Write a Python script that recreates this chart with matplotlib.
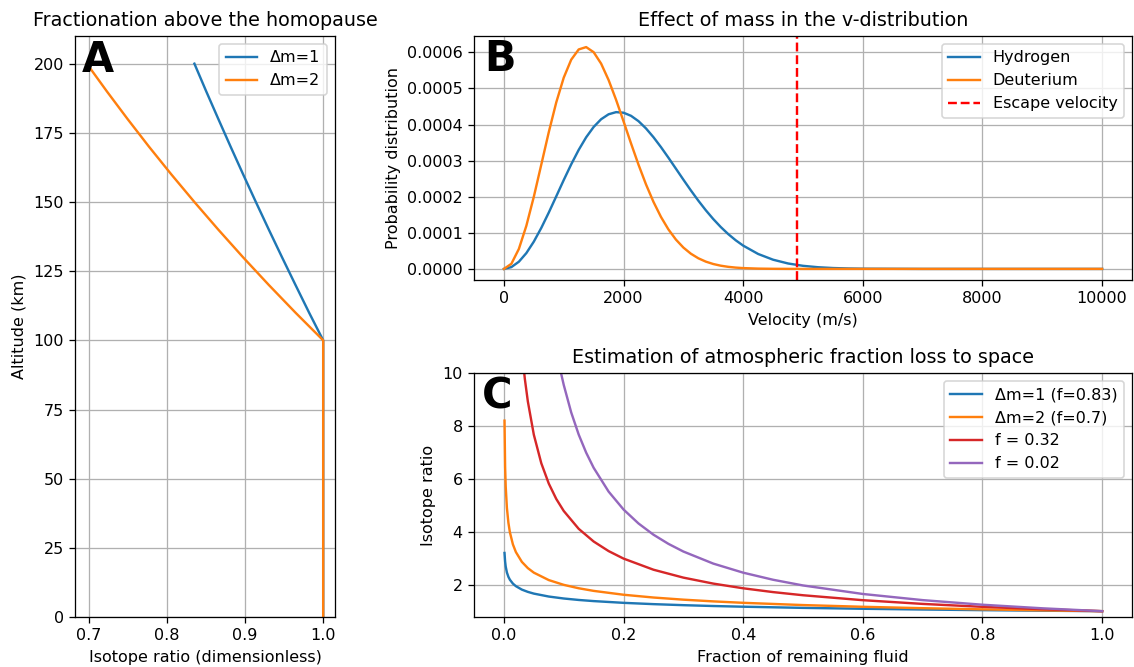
import numpy as np
import matplotlib
matplotlib.use("Agg")
import matplotlib.pyplot as plt

# --- Panel A: isotope ratio vs altitude ---
altitude = [0, 100, 110, 120, 130, 140, 150, 160, 170, 180, 190, 200]
ratio_dm1 = [1.0, 1.0, 0.982, 0.9646, 0.9474, 0.9305, 0.9139, 0.8976, 0.8816, 0.8659, 0.8504, 0.8353]
ratio_dm2 = [1.0, 1.0, 0.9646, 0.9305, 0.8976, 0.8659, 0.8353, 0.8057, 0.7772, 0.7498, 0.7233, 0.6977]

# --- Panel B: velocity distributions ---
velocity = [0, 125, 250, 375, 500, 625, 750, 875, 1000, 1125, 1250, 1375, 1500,
            1625, 1750, 1875, 2000, 2125, 2250, 2375, 2500, 2625, 2750, 2875,
            3000, 3125, 3250, 3375, 3500, 3625, 3750, 3875, 4000, 4250, 4500,
            4750, 5000, 5250, 5500, 5750, 6000, 7000, 8000, 9000, 10000]
p_hydrogen = [0, 5.039e-6, 1.990e-5, 4.382e-5, 7.561e-5, 1.1367e-4, 1.5615e-4,
              2.0103e-4, 2.4624e-4, 2.8975e-4, 3.2976e-4, 3.6469e-4, 3.9328e-4,
              4.1470e-4, 4.2843e-4, 4.3435e-4, 4.3274e-4, 4.2416e-4, 4.0934e-4,
              3.8924e-4, 3.6493e-4, 3.3755e-4, 3.0815e-4, 2.7775e-4, 2.4729e-4,
              2.1753e-4, 1.8911e-4, 1.6252e-4, 1.3810e-4, 1.1605e-4, 9.646e-5,
              7.932e-5, 6.453e-5, 4.139e-5, 2.547e-5, 1.506e-5, 8.55e-6, 4.67e-6,
              2.45e-6, 1.24e-6, 6.0e-7, 0, 0, 0, 0]
p_deuterium = [0, 1.4210e-5, 5.540e-5, 1.1941e-4, 1.9992e-4, 2.8918e-4, 3.7894e-4,
               4.6139e-4, 5.2991e-4, 5.7970e-4, 6.0806e-4, 6.1457e-4, 6.0049e-4,
               5.6879e-4, 5.2333e-4, 4.6852e-4, 4.0866e-4, 3.4766e-4, 2.8872e-4,
               2.3425e-4, 1.8579e-4, 1.4413e-4, 1.0941e-4, 8.130e-5, 5.916e-5,
               4.218e-5, 2.946e-5, 2.017e-5, 1.354e-5, 8.91e-6, 5.75e-6, 3.64e-6,
               2.26e-6, 8.2e-7, 2.8e-7, 1.0e-7, 0, 0, 0, 0, 0, 0, 0, 0, 0]
v_escape = 4900

# --- Panel C: Rayleigh curves ---
frac = [0.001, 0.002, 0.003, 0.005, 0.0075, 0.01, 0.015, 0.02, 0.03, 0.04, 0.05,
        0.075, 0.1, 0.125, 0.15, 0.2, 0.25, 0.3, 0.35, 0.4, 0.5, 0.6, 0.7, 0.8, 0.9, 1.0]
r_dm1 = [3.2, 2.876, 2.685, 2.461, 2.297, 2.188, 2.042, 1.945, 1.815, 1.729, 1.664,
         1.553, 1.479, 1.424, 1.381, 1.315, 1.266, 1.227, 1.195, 1.169, 1.125,
         1.091, 1.063, 1.039, 1.018, 1.0]
r_dm2 = [8.2, 6.452, 5.713, 4.901, 4.340, 3.981, 3.525, 3.234, 2.863, 2.627, 2.456,
         2.175, 1.995, 1.866, 1.767, 1.621, 1.516, 1.435, 1.370, 1.316, 1.231,
         1.166, 1.113, 1.069, 1.032, 1.0]
frac_red = [0.03, 0.035, 0.04, 0.05, 0.0625, 0.075, 0.0875, 0.1, 0.125, 0.15, 0.175,
            0.2, 0.25, 0.3, 0.35, 0.4, 0.45, 0.5, 0.6, 0.7, 0.8, 0.9, 1.0]
r_f032 = [10.85, 9.773, 8.925, 7.668, 6.589, 5.821, 5.241, 4.787, 4.112, 3.633,
          3.271, 2.987, 2.567, 2.268, 2.042, 1.865, 1.721, 1.602, 1.415, 1.275,
          1.164, 1.074, 1.0]
frac_purple = [0.09, 0.095, 0.1, 0.1125, 0.125, 0.1375, 0.15, 0.175, 0.2, 0.225,
               0.25, 0.275, 0.3, 0.35, 0.4, 0.45, 0.5, 0.6, 0.7, 0.8, 0.9, 1.0]
r_f002 = [10.587, 10.043, 9.550, 8.509, 7.674, 6.990, 6.419, 5.519, 4.841, 4.314,
          3.890, 3.544, 3.254, 2.798, 2.455, 2.187, 1.972, 1.650, 1.418, 1.244,
          1.109, 1.0]

fig = plt.figure(figsize=(9.861, 5.8), dpi=115)
W, H = 1134, 667


def box(left, top, right, bottom):
    return [left / W, 1 - bottom / H, (right - left) / W, (bottom - top) / H]


axA = fig.add_axes(box(75, 36, 335, 617))
axB = fig.add_axes(box(474, 36, 1132, 280))
axC = fig.add_axes(box(474, 373, 1132, 617))

letter_kw = dict(fontsize=26, fontweight="bold", va="top", ha="left")

# A
axA.plot(ratio_dm1, altitude, label="Δm=1")
axA.plot(ratio_dm2, altitude, label="Δm=2")
axA.set_ylim(0, 210)
axA.set_xticks([0.7, 0.8, 0.9, 1.0])
axA.set_title("Fractionation above the homopause")
axA.set_xlabel("Isotope ratio (dimensionless)")
axA.set_ylabel("Altitude (km)")
axA.grid(True)
axA.legend(loc="upper right")
axA.text(0.025, 0.995, "A", transform=axA.transAxes, **letter_kw)

# B
axB.plot(velocity, p_hydrogen, label="Hydrogen")
axB.plot(velocity, p_deuterium, label="Deuterium")
axB.axvline(v_escape, color="red", linestyle="--", label="Escape velocity")
axB.set_title("Effect of mass in the v-distribution")
axB.set_xlabel("Velocity (m/s)")
axB.set_ylabel("Probability distribution")
axB.grid(True)
axB.legend(loc="upper right")
axB.text(0.015, 0.99, "B", transform=axB.transAxes, **letter_kw)

# C
axC.plot(frac, r_dm1, label="Δm=1 (f=0.83)")
axC.plot(frac, r_dm2, label="Δm=2 (f=0.7)")
axC.plot(frac_red, r_f032, color="tab:red", label="f = 0.32")
axC.plot(frac_purple, r_f002, color="tab:purple", label="f = 0.02")
axC.set_xlim(-0.05, 1.05)
axC.set_ylim(0.78, 10)
axC.set_yticks([2, 4, 6, 8, 10])
axC.set_title("Estimation of atmospheric fraction loss to space")
axC.set_xlabel("Fraction of remaining fluid")
axC.set_ylabel("Isotope ratio")
axC.grid(True)
axC.legend(loc="upper right")
axC.text(0.012, 0.99, "C", transform=axC.transAxes, **letter_kw)

fig.savefig("out.png", dpi=115)
